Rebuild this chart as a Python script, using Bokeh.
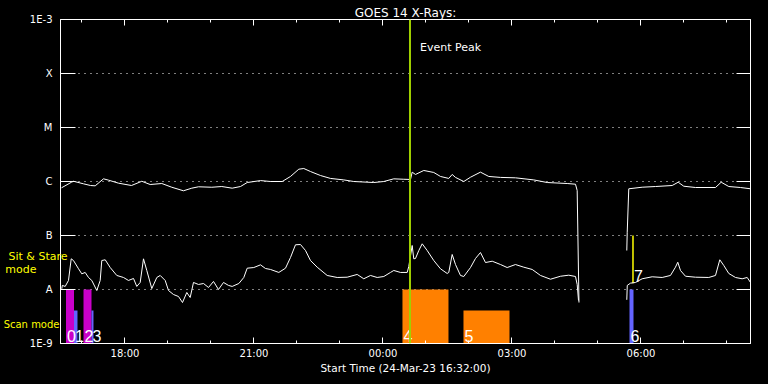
import numpy as np
from bokeh.plotting import figure
from bokeh.models import Range1d, FixedTicker, LinearAxis, LogAxis, Span, Label
from bokeh.core.properties import value
from bokeh.embed import file_html
from bokeh.resources import INLINE

# ---------------- data (time = hours since 24-Mar-23 00:00) ----------------
long_time = [16.523, 16.756, 16.802, 17.035, 17.198, 17.307, 17.5, 17.616, 17.849, 18.151,
             18.391, 18.586, 18.856, 19.088, 19.36, 19.553, 19.709, 20.019, 20.251, 20.493,
             20.686, 20.842, 21.151, 21.384, 21.656, 21.849, 22.042, 22.158, 22.314, 22.547,
             22.779, 23.088, 23.321, 23.786, 24.019, 24.251, 24.484, 24.64, 24.679, 24.756,
             24.949, 25.181, 25.337, 25.53, 25.609, 25.686, 25.879, 26.035, 26.267, 26.46,
             26.733, 27.081, 27.507, 27.819, 28.284, 28.477, 28.516, 28.558, 29.0,
             29.67, 29.68, 29.716, 30.028, 30.337, 30.726, 30.865, 30.995, 31.267, 31.733,
             31.865, 32.042, 32.314, 32.547]
long_flux = [7.64e-7, 9.70e-7, 1.01e-6, 9.06e-7, 8.43e-7, 8.32e-7, 1.12e-6, 1.06e-6, 9.31e-7, 8.43e-7,
             1.01e-6, 8.79e-7, 9.18e-7, 7.83e-7, 6.73e-7, 7.52e-7, 7.98e-7, 7.83e-7, 8.07e-7, 7.52e-7,
             8.07e-7, 9.57e-7, 1.04e-6, 1.00e-6, 1.00e-6, 1.24e-6, 1.69e-6, 1.74e-6, 1.53e-6, 1.29e-6,
             1.14e-6, 1.07e-6, 1.00e-6, 9.57e-7, 1.00e-6, 1.12e-6, 1.10e-6, 1.09e-6, 1.49e-6, 1.35e-6,
             1.60e-6, 1.47e-6, 1.24e-6, 1.14e-6, 1.35e-6, 1.19e-6, 1.00e-6, 1.20e-6, 1.49e-6, 1.24e-6,
             1.19e-6, 1.17e-6, 1.07e-6, 9.57e-7, 9.18e-7, 8.91e-7, 6.81e-7, 5.74e-9, np.nan,
             5.27e-8, 1.15e-7, 7.33e-7, 7.84e-7, 8.07e-7, 8.43e-7, 9.70e-7, 8.18e-7, 7.74e-7, 7.74e-7,
             9.70e-7, 8.07e-7, 7.74e-7, 7.33e-7]

short_time = [16.530, 16.542, 16.609, 16.686, 16.749, 16.802, 16.919, 16.995, 17.074, 17.151,
              17.228, 17.344, 17.423, 17.460, 17.540, 17.656, 17.809, 17.965, 18.081, 18.198,
              18.274, 18.353, 18.430, 18.507, 18.623, 18.740, 18.819, 18.935, 19.012, 19.128,
              19.244, 19.337, 19.437, 19.516, 19.593, 19.709, 19.826, 19.942, 20.058, 20.174,
              20.291, 20.407, 20.493, 20.647, 20.763, 20.842, 20.995, 21.151, 21.267, 21.384,
              21.577, 21.733, 21.849, 21.965, 22.081, 22.198, 22.314, 22.470, 22.702, 22.935,
              23.167, 23.400, 23.553, 23.709, 23.865, 24.019, 24.174, 24.251, 24.407, 24.563,
              24.600, 24.679, 24.716, 24.756, 24.833, 24.912, 25.028, 25.181, 25.337, 25.493,
              25.530, 25.609, 25.686, 25.802, 25.879, 26.035, 26.151, 26.267, 26.384, 26.540,
              26.733, 26.888, 27.081, 27.274, 27.470, 27.663, 27.895, 28.128, 28.321, 28.477,
              28.516, 28.547, 29.0,
              29.670, 29.681, 29.756, 29.872, 30.028, 30.260, 30.493, 30.686, 30.802, 30.856,
              30.919, 31.035, 31.267, 31.577, 31.733, 31.833, 31.926, 32.042, 32.198, 32.353,
              32.470, 32.547]
short_flux = [1.03e-8, 1.19e-8, 1.14e-8, 1.47e-8, 3.70e-8, 3.44e-8, 2.42e-8, 1.95e-8, 2.07e-8, 1.67e-8,
              1.47e-8, 9.58e-9, 1.47e-8, 3.44e-8, 3.55e-8, 2.55e-8, 1.82e-8, 1.67e-8, 1.47e-8, 1.60e-8,
              1.14e-8, 1.35e-8, 3.70e-8, 2.25e-8, 1.04e-8, 1.67e-8, 1.82e-8, 1.47e-8, 9.58e-9, 8.07e-9,
              7.42e-9, 5.74e-9, 8.80e-9, 7.11e-9, 1.35e-8, 1.24e-8, 1.29e-8, 1.09e-8, 1.41e-8, 1.00e-8,
              1.35e-8, 1.19e-8, 1.14e-8, 1.29e-8, 1.67e-8, 2.48e-8, 2.55e-8, 2.86e-8, 2.45e-8, 2.35e-8,
              2.07e-8, 2.48e-8, 3.92e-8, 6.73e-8, 6.81e-8, 5.27e-8, 3.44e-8, 2.59e-8, 1.82e-8, 1.67e-8,
              1.69e-8, 1.90e-8, 1.58e-8, 1.82e-8, 1.67e-8, 1.74e-8, 2.07e-8, 2.25e-8, 2.07e-8, 2.07e-8,
              2.67e-8, 6.53e-8, 3.70e-8, 3.75e-8, 5.27e-8, 7.02e-8, 5.27e-8, 3.44e-8, 2.42e-8, 1.98e-8,
              2.07e-8, 4.45e-8, 2.90e-8, 1.82e-8, 1.74e-8, 2.55e-8, 3.75e-8, 4.84e-8, 3.16e-8, 3.34e-8,
              2.90e-8, 2.55e-8, 2.90e-8, 2.59e-8, 2.35e-8, 1.82e-8, 1.55e-8, 1.76e-8, 1.84e-8, 1.74e-8,
              1.24e-8, 6.25e-9, np.nan,
              6.44e-9, 1.19e-8, 1.31e-8, 1.35e-8, 1.58e-8, 1.72e-8, 1.67e-8, 1.82e-8, 2.59e-8, 3.20e-8,
              2.25e-8, 1.76e-8, 1.69e-8, 1.67e-8, 1.82e-8, 3.55e-8, 2.78e-8, 1.98e-8, 1.67e-8, 1.58e-8,
              1.67e-8, 1.35e-8]

# observation windows (scan mode)
obs_start = [16.628, 16.814, 17.035, 17.221, 24.453, 25.872, 29.733]
obs_end = [16.814, 16.895, 17.221, 17.267, 25.523, 26.942, 29.826]
obs_top = [1e-8, 4.1e-9, 1e-8, 4.1e-9, 1e-8, 4.1e-9, 1e-8]
obs_kind = ["m", "b", "m", "b", "o", "o", "b"]
obs_label = ["0", "1", "2", "3", "4", "5", "6"]

# sit & stare observations
sit_time = [29.814]
sit_top = [1e-7]
sit_bottom = [1.3e-8]
sit_label = ["7"]

event_peak_time = 24.628

x_ticks = [18, 21, 24, 27, 30]
x_tick_labels = ["18:00", "21:00", "00:00", "03:00", "06:00"]
x_minor_ticks = [17, 19, 20, 22, 23, 25, 26, 28, 29, 31, 32]
y_ticks = [1e-9, 1e-8, 1e-7, 1e-6, 1e-5, 1e-4, 1e-3]
y_tick_labels = ["1E-9", "A", "B", "C", "M", "X", "1E-3"]

# mode texts on the left (flux level at which each line of text sits)
mode_texts = ["Sit & Stare", "mode", "Scan mode"]
mode_levels = [4.0e-8, 2.3e-8, 2.25e-9]

x_start, x_end = 16.5, 32.547

# ---------------- styles ----------------
kind_colors = {"m": "#c800c8", "b": "#6464ff", "o": "#ff8000"}
FONT = "DejaVu Sans"
WHITE = "white"
YELLOW = "#ffff00"
mode_standoffs = [-41, -31, -57]
mode_sizes = ["11px", "11px", "10px"]

p = figure(width=768, height=384, x_range=Range1d(x_start, x_end), y_range=Range1d(y_ticks[0], y_ticks[-1]),
           y_axis_type="log", output_backend="svg", toolbar_location=None,
           background_fill_color="black", border_fill_color="black",
           outline_line_color=WHITE, outline_line_width=1,
           min_border_left=60, min_border_right=18, min_border_top=19, min_border_bottom=41,
           title="GOES 14 X-Rays:")

p.title.align = "center"
p.title.offset = -3
p.title.standoff = 0
p.title.text_color = WHITE
p.title.text_font = FONT
p.title.text_font_size = "12px"
p.title.text_font_style = "normal"

xt = FixedTicker(ticks=x_ticks, minor_ticks=x_minor_ticks)
yt = FixedTicker(ticks=y_ticks, minor_ticks=[])

xa = p.xaxis[0]
xa.ticker = xt
xa.major_label_overrides = dict(zip(x_ticks, x_tick_labels))
xa.axis_label = "Start Time (24-Mar-23 16:32:00)"
xa.axis_label_text_font = FONT
xa.axis_label_text_font_size = "10.5px"
xa.axis_label_text_font_style = "normal"
xa.axis_label_text_color = WHITE
xa.axis_label_standoff = 0
xa.major_label_text_font = FONT
xa.major_label_text_font_size = "10px"
xa.major_label_text_color = WHITE
xa.major_label_standoff = 4
xa.major_tick_in = 6
xa.major_tick_out = 0
xa.minor_tick_in = 3
xa.minor_tick_out = 0
xa.axis_line_color = WHITE
xa.major_tick_line_color = WHITE
xa.minor_tick_line_color = WHITE

ya = p.yaxis[0]
ya.ticker = yt
ya.major_label_overrides = dict(zip(y_ticks, y_tick_labels))
ya.major_label_text_color = WHITE
ya.major_label_text_font = FONT
ya.major_label_text_font_size = "10px"
ya.major_label_standoff = 8
ya.major_tick_in = 15
ya.major_tick_out = 0
ya.minor_tick_line_color = None
ya.axis_line_color = WHITE
ya.major_tick_line_color = WHITE

# outer left axes carrying the yellow mode texts (no line, no ticks)
for txt, lvl, so, fs in zip(mode_texts, mode_levels, mode_standoffs, mode_sizes):
    p.add_layout(LogAxis(ticker=FixedTicker(ticks=[lvl], minor_ticks=[]),
                         major_label_overrides={lvl: txt},
                         major_label_text_color=YELLOW, major_label_text_font=FONT,
                         major_label_text_font_size=fs, major_label_standoff=so,
                         major_tick_in=0, major_tick_out=0, major_tick_line_color=None,
                         minor_tick_line_color=None, axis_line_color=None), "left")

top_axis = LinearAxis(ticker=xt, major_label_text_color=None, major_label_text_font_size="1px",
                      major_label_standoff=0,
                      major_tick_in=6, major_tick_out=0, minor_tick_in=3, minor_tick_out=0,
                      axis_line_color=WHITE, major_tick_line_color=WHITE, minor_tick_line_color=WHITE)
p.add_layout(top_axis, "above")
right_axis = LogAxis(ticker=yt, major_label_text_color=None, major_label_text_font_size="1px",
                     major_label_standoff=0,
                     major_tick_in=14, major_tick_out=0, minor_tick_line_color=None,
                     axis_line_color=WHITE, major_tick_line_color=WHITE)
p.add_layout(right_axis, "right")

p.xgrid.visible = False
p.ygrid.ticker = yt
p.ygrid.grid_line_color = WHITE
p.ygrid.grid_line_dash = "1 5"
p.ygrid.grid_line_width = 1

# observation bars
p.quad(left=obs_start, right=obs_end, bottom=y_ticks[0], top=obs_top,
       fill_color=[kind_colors[k] for k in obs_kind], line_color=None)
p.text(x=obs_start, y=[y_ticks[0]] * len(obs_start), text=obs_label,
       text_align="left", text_baseline="bottom", y_offset=-2, x_offset=1,
       text_color=WHITE, text_font=value("Liberation Sans"), text_font_size="16px")

# sit & stare marker
p.segment(x0=sit_time, y0=sit_top, x1=sit_time, y1=sit_bottom, line_color=YELLOW, line_width=1.5)
p.text(x=sit_time, y=sit_bottom, text=sit_label, text_align="left", text_baseline="bottom",
       x_offset=1, y_offset=-1, text_color=WHITE, text_font=value("Liberation Sans"),
       text_font_size="16px")

# flux curves
p.line(long_time, long_flux, line_color=WHITE, line_width=1)
p.line(short_time, short_flux, line_color=WHITE, line_width=1)

# event peak
p.add_layout(Span(location=event_peak_time, dimension="height", line_color="#a0d000", line_width=2))
p.add_layout(Label(x=event_peak_time, y=y_ticks[-1], x_offset=10, y_offset=-28,
                   text="Event Peak", text_color=WHITE, text_font=FONT, text_font_size="11px",
                   text_baseline="alphabetic"))

html = file_html(p, INLINE)
html = html.replace("<head>", "<head><style>html, body {background-color: #000000;}</style>", 1)
open("out.html", "w").write(html)
